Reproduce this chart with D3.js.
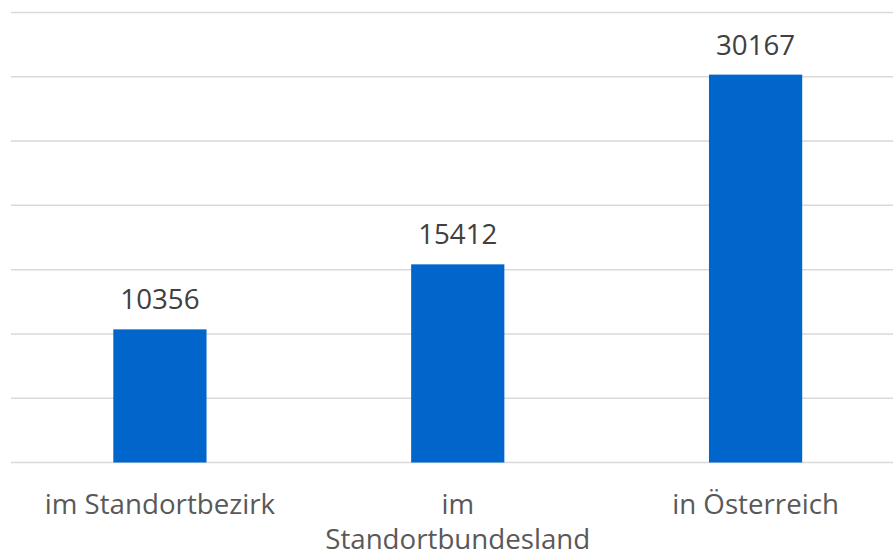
<!DOCTYPE html>
<html>
<head>
<meta charset="utf-8">
<script src="https://cdn.jsdelivr.net/npm/d3@7"></script>
<style>
  body { margin: 0; background: #fff; }
  svg { display: block; font-family: "Open Sans", sans-serif; }
</style>
</head>
<body>
<svg id="chart"></svg>
<script>
// chart data
var categories = ["im Standortbezirk", "im Standortbundesland", "in Österreich"];
var values = [10356, 15412, 30167];
var yTicks = [0, 5000, 10000, 15000, 20000, 25000, 30000, 35000];

var width = 893, height = 556;
var plot = {left: 11, right: 904.5, top: 12.5, bottom: 462.5};

var svg = d3.select("#chart")
  .attr("width", width)
  .attr("height", height);

var x = d3.scaleBand()
  .domain(categories)
  .range([plot.left, plot.right])
  .paddingInner(0.687)
  .paddingOuter(0.687 / 2);

var y = d3.scaleLinear()
  .domain([0, 35000])
  .range([plot.bottom, plot.top]);

// gridlines
svg.append("g")
  .selectAll("line")
  .data(yTicks)
  .enter().append("line")
  .attr("x1", plot.left)
  .attr("x2", width)
  .attr("y1", function(d) { return y(d); })
  .attr("y2", function(d) { return y(d); })
  .style("stroke", "#d9d9d9")
  .style("stroke-width", 1.5);

// bars
svg.append("g")
  .selectAll("rect")
  .data(values)
  .enter().append("rect")
  .attr("x", function(d, i) { return x(categories[i]); })
  .attr("width", x.bandwidth())
  .attr("y", function(d) { return y(d); })
  .attr("height", function(d) { return y(0) - y(d); })
  .style("fill", "#0066cc");

// value labels
svg.append("g")
  .selectAll("text")
  .data(values)
  .enter().append("text")
  .attr("x", function(d, i) { return x(categories[i]) + x.bandwidth() / 2; })
  .attr("y", function(d) { return y(d) - 20; })
  .attr("text-anchor", "middle")
  .style("font-size", "27.7px")
  .style("fill", "#404040")
  .text(function(d) { return d; });

// category labels, wrapped
var cat = svg.append("g")
  .selectAll("text")
  .data(categories)
  .enter().append("text")
  .attr("text-anchor", "middle")
  .attr("x", function(d) { return x(d) + x.bandwidth() / 2; })
  .attr("y", 514)
  .style("font-size", "27.7px")
  .style("fill", "#595959");

cat.each(function(d) {
  var t = d3.select(this);
  var cx = x(d) + x.bandwidth() / 2;
  var words = d.split(" "), line = [];
  var tspan = t.append("tspan").attr("x", cx).attr("dy", 0);
  words.forEach(function(w) {
    line.push(w);
    tspan.text(line.join(" "));
    if (tspan.node().getComputedTextLength() > 265 && line.length > 1) {
      line.pop();
      tspan.text(line.join(" "));
      line = [w];
      tspan = t.append("tspan").attr("x", cx).attr("dy", 35).text(w);
    }
  });
});
</script>
</body>
</html>
